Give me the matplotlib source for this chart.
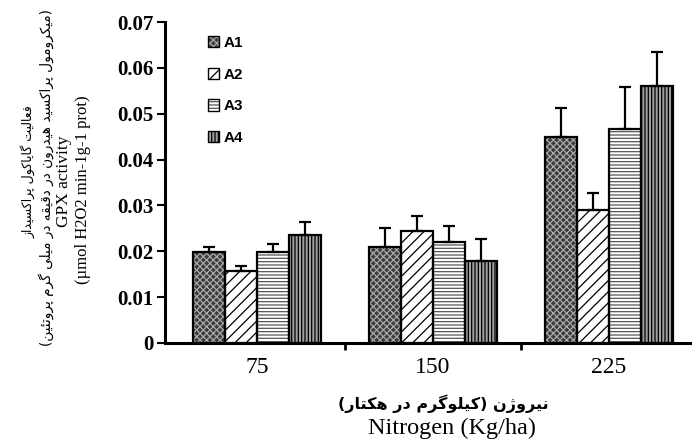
import matplotlib
matplotlib.use("Agg")
import matplotlib.pyplot as plt
import numpy as np
from matplotlib.patches import Patch

# ---------------- data ----------------
groups = ["75", "150", "225"]
series = ["A1", "A2", "A3", "A4"]
a1_mean = [0.0199, 0.0209, 0.0450]
a2_mean = [0.0158, 0.0245, 0.0290]
a3_mean = [0.0198, 0.0220, 0.0467]
a4_mean = [0.0235, 0.0179, 0.0561]
a1_err = [0.0011, 0.0041, 0.0062]
a2_err = [0.0011, 0.0031, 0.0038]
a3_err = [0.0018, 0.0036, 0.0092]
a4_err = [0.0029, 0.0047, 0.0073]
yticks = [0, 0.01, 0.02, 0.03, 0.04, 0.05, 0.06, 0.07]
ytick_labels = ["0", "0.01", "0.02", "0.03", "0.04", "0.05", "0.06", "0.07"]

ylab_fa1 = "فعالیت گایاکول پراکسیداز"
ylab_fa2 = "(میکرومول پراکسید هیدرون در دقیقه در میلی گرم پروتئین)"
ylab_en1 = "GPX activity"
ylab_en2 = "(µmol H2O2 min-1g-1 prot)"
xlab_fa = "نیروژن (کیلوگرم در هکتار)"
xlab_en = "Nitrogen (Kg/ha)"

# ------------- minimal Arabic-script shaping (visual order) -------------
FORMS = {
    'ا': (0xFE8D, 0xFE8E, None, None),
    'ب': (0xFE8F, 0xFE90, 0xFE91, 0xFE92),
    'پ': (0xFB56, 0xFB57, 0xFB58, 0xFB59),
    'ت': (0xFE95, 0xFE96, 0xFE97, 0xFE98),
    'د': (0xFEA9, 0xFEAA, None, None),
    'ر': (0xFEAD, 0xFEAE, None, None),
    'ز': (0xFEAF, 0xFEB0, None, None),
    'ژ': (0xFB8A, 0xFB8B, None, None),
    'س': (0xFEB1, 0xFEB2, 0xFEB3, 0xFEB4),
    'ع': (0xFEC9, 0xFECA, 0xFECB, 0xFECC),
    'ف': (0xFED1, 0xFED2, 0xFED3, 0xFED4),
    'ق': (0xFED5, 0xFED6, 0xFED7, 0xFED8),
    'ک': (0xFB8E, 0xFB8F, 0xFB90, 0xFB91),
    'گ': (0xFB92, 0xFB93, 0xFB94, 0xFB95),
    'ل': (0xFEDD, 0xFEDE, 0xFEDF, 0xFEE0),
    'م': (0xFEE1, 0xFEE2, 0xFEE3, 0xFEE4),
    'ن': (0xFEE5, 0xFEE6, 0xFEE7, 0xFEE8),
    'ه': (0xFEE9, 0xFEEA, 0xFEEB, 0xFEEC),
    'و': (0xFEED, 0xFEEE, None, None),
    'ی': (0xFBFC, 0xFBFD, 0xFBFE, 0xFBFF),
    'ئ': (0xFE89, 0xFE8A, 0xFE8B, 0xFE8C),
}


def shape_rtl(s):
    out = []
    n = len(s)
    for i, c in enumerate(s):
        if c not in FORMS:
            out.append(c)
            continue
        iso, fin, ini, med = FORMS[c]
        prev = s[i - 1] if i > 0 else ''
        nxt = s[i + 1] if i < n - 1 else ''
        pj = prev in FORMS and FORMS[prev][2] is not None
        nj = ini is not None and nxt in FORMS
        if pj and nj:
            code = med
        elif pj:
            code = fin
        elif nj:
            code = ini
        else:
            code = iso
        out.append(chr(code))
    vis = ''.join(reversed(out))
    return vis.translate(str.maketrans({'(': ')', ')': '('}))


# ---------------- figure ----------------
W, H = 692, 441
fig = plt.figure(figsize=(W / 100, H / 100), dpi=100)
ax = fig.add_axes([165 / W, 1 - 343 / H, (W - 165) / W, (343 - 22) / H])

x = np.arange(len(groups))
width = 0.182
offsets = [-1.5 * width, -0.5 * width, 0.5 * width, 1.5 * width]
means = [a1_mean, a2_mean, a3_mean, a4_mean]
errs = [a1_err, a2_err, a3_err, a4_err]
styles = [
    dict(face="#3c3c3c", hatch="xxxxx", hcol="#a8a8a8"),
    dict(face="white", hatch="///", hcol="black"),
    dict(face="white", hatch="-----", hcol="#555555"),
    dict(face="#a0a0a0", hatch="|||||", hcol="black"),
]
plt.rcParams['hatch.linewidth'] = 0.9

handles = []
for k in range(4):
    st = styles[k]
    pos = x + offsets[k]
    ax.bar(pos, means[k], width, facecolor=st["face"], edgecolor=st["hcol"],
           hatch=st["hatch"], linewidth=0, zorder=2)
    ax.bar(pos, means[k], width, fill=False, edgecolor="black", linewidth=1.6, zorder=3)
    ax.errorbar(pos, means[k], yerr=[np.zeros(3), errs[k]], fmt="none",
                ecolor="black", elinewidth=1.6, capsize=4.5, capthick=1.6, zorder=4)
    h = (Patch(facecolor=st["face"], edgecolor=st["hcol"], hatch=st["hatch"], linewidth=0),
         Patch(fill=False, edgecolor="black", linewidth=1.0))
    handles.append(h)

leg = ax.legend(handles, series, loc="upper left", bbox_to_anchor=(0.07, 0.975),
                frameon=False, handlelength=0.75, handleheight=0.75, handletextpad=0.3,
                labelspacing=1.15, borderaxespad=0,
                prop=dict(family="Liberation Sans", weight="bold", size=11))

ax.set_xlim((165 - 257) / 176, (692 - 257) / 176)
ax.set_ylim(0, 0.07)
ax.set_yticks(yticks)
ax.set_yticklabels(ytick_labels, fontfamily="Liberation Serif", fontweight="bold", fontsize=15)
ax.set_xticks(x)
ax.set_xticklabels(groups, fontfamily="Liberation Serif", fontsize=17)
ax.set_xticks([0.5, 1.5], minor=True)
ax.tick_params(axis="x", which="major", length=0, pad=10)
ax.tick_params(axis="x", which="minor", length=5, width=2, direction="out")
ax.tick_params(axis="y", which="major", length=6, width=1.5, direction="out", pad=2)

for sp in ["top", "right"]:
    ax.spines[sp].set_visible(False)
for sp in ["left", "bottom"]:
    ax.spines[sp].set_linewidth(2.2)

# y label lines
fa_font = ["DejaVu Sans"]
fig.text(28 / W, 1 - 172 / H, shape_rtl(ylab_fa1), rotation=90, ha="center", va="center",
         family=fa_font, fontsize=9)
fig.text(46 / W, 1 - 177 / H, shape_rtl(ylab_fa2), rotation=90, ha="center", va="center",
         family=fa_font, fontsize=9.8)
fig.text(64 / W, 1 - 181 / H, ylab_en1, rotation=90, ha="center", va="center",
         family="Liberation Serif", fontsize=12.5)
fig.text(83 / W, 1 - 190 / H, ylab_en2, rotation=90, ha="center", va="center",
         family="Liberation Serif", fontsize=12)

# x label lines
fig.text(443 / W, 1 - 404 / H, shape_rtl(xlab_fa), ha="center", va="center",
         family=fa_font, fontsize=11.5, fontweight="bold")
fig.text(452 / W, 1 - 428 / H, xlab_en, ha="center", va="center",
         family="Liberation Serif", fontsize=17.5)

fig.savefig("out.png", dpi=100)
